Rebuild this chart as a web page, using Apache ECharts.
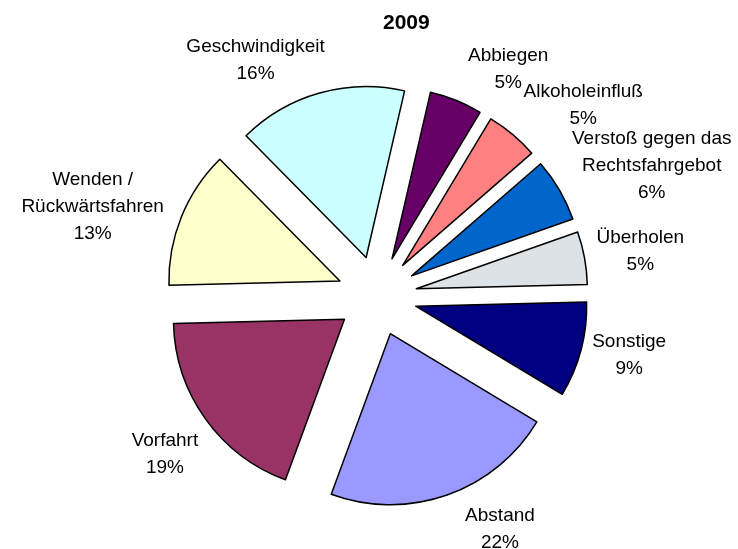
<!DOCTYPE html>
<html>
<head>
<meta charset="utf-8">
<script src="https://cdn.jsdelivr.net/npm/echarts@6/dist/echarts.min.js"></script>
<style>
  html, body { margin: 0; padding: 0; background: #fff; }
  #chart { width: 738px; height: 549px; }
</style>
</head>
<body>
<div id="chart"></div>
<script>
// Daten (Anteile in %), im Uhrzeigersinn ab "Abbiegen"
var categories = ['Abbiegen', 'Alkoholeinfluß', 'Verstoß gegen das\nRechtsfahrgebot', 'Überholen',
                  'Sonstige', 'Abstand', 'Vorfahrt', 'Wenden /\nRückwärtsfahren', 'Geschwindigkeit'];
var shares = [5, 5, 6, 5, 9, 22, 19, 13, 16];
var colors = ['#660066', '#FF8080', '#0066CC', '#DDE2E6', '#000080', '#9999FF', '#993366', '#FFFFCC', '#CCFFFF'];

var cx = 377, cy = 296, radius = 171, explode = 40;
var startDeg = 13; // im Uhrzeigersinn ab 12 Uhr
var labelGap = 230;
// Feinkorrektur der Beschriftungen (px), wie im Original von Hand verschoben
var labelNudge = [[30, 12], [20, 6], [7, 6], [-6, 2], [-6, -6], [35, -9], [2, 9], [-5, 12], [-40, 12]];

var total = shares.reduce(function (a, b) { return a + b; }, 0);
var cum = [];
shares.reduce(function (acc, v, i) { cum[i] = acc; return acc + v; }, 0);

var labelFont = { fontFamily: 'Liberation Sans', fontSize: 19, lineHeight: 27, color: '#000' };

var chart = echarts.init(document.getElementById('chart'));
chart.setOption({
    animation: false,
    title: {
        text: '2009',
        left: 378,
        top: 8,
        textStyle: { fontFamily: 'Liberation Sans', fontSize: 21, fontWeight: 'bold', color: '#000' }
    },
    color: colors,
    series: [{
        // Tortenstücke, herausgezogen
        type: 'pie',
        center: [cx, cy],
        radius: radius,
        startAngle: 90 - startDeg,
        clockwise: true,
        selectedMode: 'multiple',
        selectedOffset: explode,
        itemStyle: { borderColor: '#000', borderWidth: 1.5 },
        emphasis: { disabled: true },
        label: { show: false },
        labelLine: { show: false },
        data: categories.map(function (name, i) {
            return { name: name, value: shares[i], selected: true };
        })
    }, {
        // nur Beschriftungen (selected-Labels lassen sich nicht per labelLayout setzen)
        type: 'pie',
        center: [cx, cy],
        radius: radius,
        startAngle: 90 - startDeg,
        clockwise: true,
        silent: true,
        itemStyle: { color: 'rgba(0,0,0,0)' },
        emphasis: { disabled: true },
        labelLine: { show: false },
        label: Object.assign({
            show: true,
            position: 'outside',
            formatter: '{b}\n{d}%',
            overflow: 'none',
            align: 'center'
        }, labelFont),
        labelLayout: function (p) {
            var i = p.dataIndex;
            var mid = (startDeg + (cum[i] + shares[i] / 2) / total * 360) * Math.PI / 180;
            var ux = Math.sin(mid), uy = -Math.cos(mid);
            var w = p.labelRect.width, h = p.labelRect.height;
            return {
                x: cx + ux * labelGap + ux * w / 2 + labelNudge[i][0],
                y: cy + uy * labelGap + uy * h / 2 + labelNudge[i][1],
                align: 'center',
                verticalAlign: 'middle'
            };
        },
        data: categories.map(function (name, i) {
            return { name: name, value: shares[i] };
        })
    }]
});
</script>
</body>
</html>
